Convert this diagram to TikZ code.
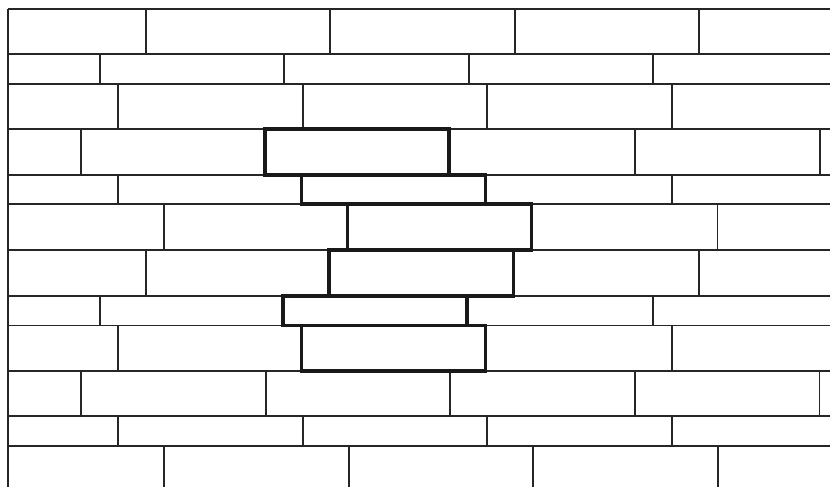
\documentclass[tikz,border=0pt]{standalone}
\begin{document}
\begin{tikzpicture}[x=1pt,y=-1pt,
  mortar/.style={line width=1.3pt,draw=black!85},
  brickhi/.style={line width=3.2pt,draw=black!90,line join=miter}]
\useasboundingbox (0,0) rectangle (830,487);
% horizontal courses
\foreach \y in {9,54,84,129,175,204,250,296,325.5,371,416,446}
  \draw[mortar] (8,\y) -- (830,\y);
% left edge
\draw[mortar] (8,9) -- (8,487);
% vertical joints: top, bottom, list of x
\foreach \ya/\yb/\xs in {
  9/54/{146,330,515,699},
  54/84/{100,284,469,653},
  84/129/{118,303,487,672},
  129/175/{81,635,820},
  175/204/{118,672},
  204/250/{164,717.5},
  250/296/{146,699},
  296/325.5/{100,653},
  325.5/371/{118,672},
  371/416/{81,266,450,635,819.5},
  416/446/{118,303,487,672},
  446/487/{164,349,533,718}}
  \foreach \x in \xs
    \draw[mortar] (\x,\ya) -- (\x,\yb);
% highlighted bricks
\draw[brickhi] (265,129) rectangle (449,175);
\draw[brickhi] (301.5,175) rectangle (485.5,204);
\draw[brickhi] (347.5,204) rectangle (531.5,250);
\draw[brickhi] (329,250) rectangle (513.5,296);
\draw[brickhi] (283,296) rectangle (467,325.5);
\draw[brickhi] (301.5,325.5) rectangle (485.5,371);
\end{tikzpicture}
\end{document}
